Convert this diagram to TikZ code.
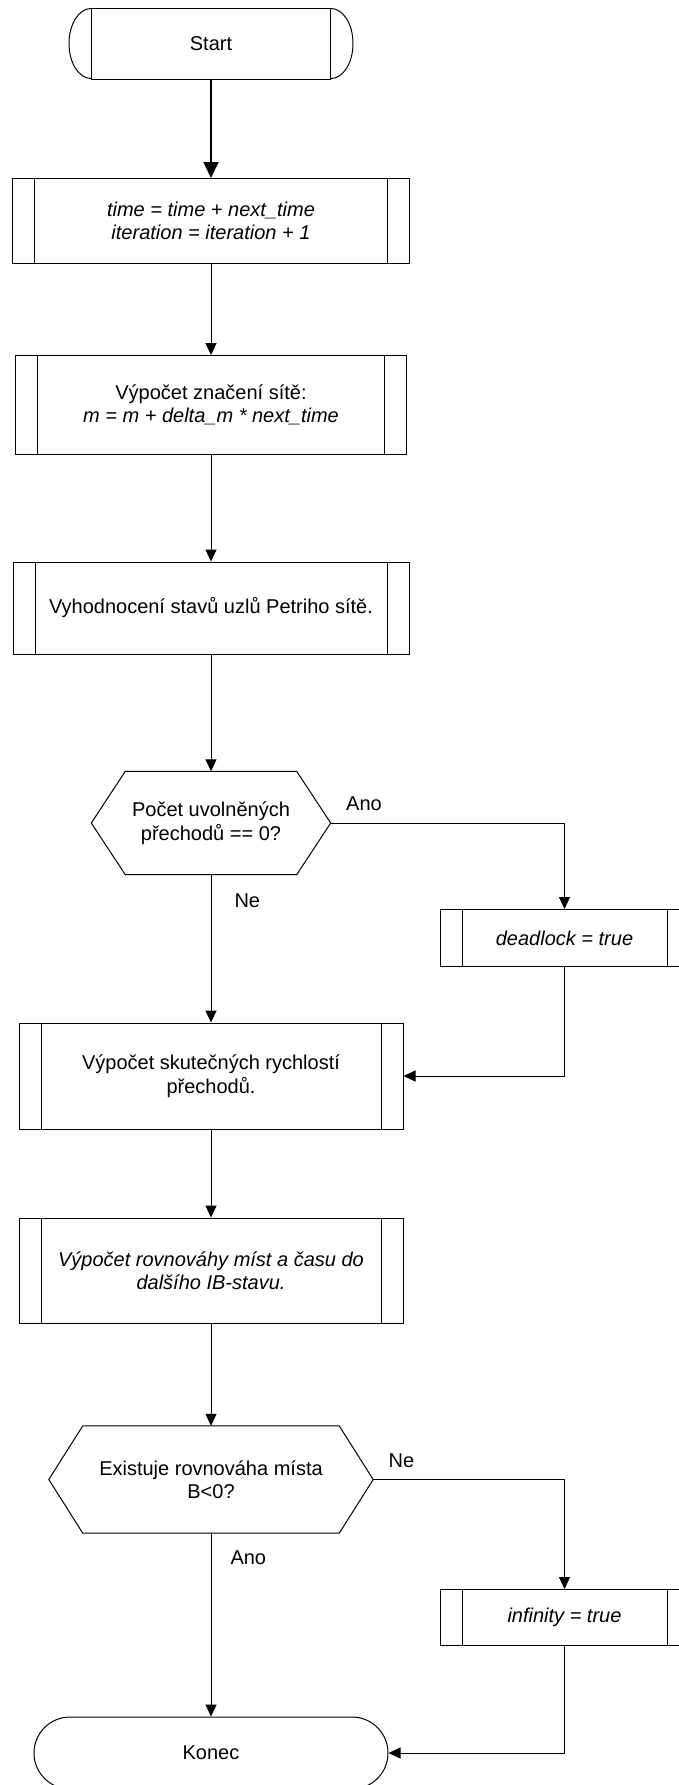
\documentclass[tikz,border=0pt]{standalone}
\usepackage{fontspec}
\setmainfont{Liberation Sans}
\usetikzlibrary{shapes, arrows.meta}

\begin{document}
\begin{tikzpicture}[x=1pt, y=-1pt, font=\fontsize{20}{23.5}\selectfont]

\tikzstyle{block} = [rectangle, draw, line width=1pt, align=center, inner sep=0pt, path picture={
	\draw[line width=1pt] ([xshift=22pt]path picture bounding box.north west) -- ([xshift=22pt]path picture bounding box.south west);
	\draw[line width=1pt] ([xshift=-22pt]path picture bounding box.north east) -- ([xshift=-22pt]path picture bounding box.south east);}]
\tikzstyle{decision} = [rectangle, align=center, inner sep=0pt]
\tikzstyle{terminal} = [rectangle, draw, line width=1pt, inner sep=0pt]
\tikzstyle{line} = [draw, line width=1pt, -{Triangle[length=12pt, width=11pt]}]
\tikzstyle{answer} = [inner sep=0pt, anchor=base west]

	\useasboundingbox (0,0) rectangle (679,1785);

	\node [terminal, minimum width=239pt, minimum height=70pt] (start) at (211,44) {Start};

	\node [block, below of=start, node distance=177pt, minimum width=397pt, minimum height=85pt] (update) {\textit{time = time + next\_time}\\\textit{iteration = iteration + 1}};
	\node [block, below of=update, node distance=184pt, minimum width=391pt, minimum height=99pt] (marking) {Výpočet značení sítě:\\\textit{m = m + delta\_m * next\_time}};
	\node [block, below of=marking, node distance=203pt, minimum width=396pt, minimum height=92pt] (evaluate) {Vyhodnocení stavů uzlů Petriho sítě.};

	\node [decision, below of=evaluate, node distance=215pt, minimum width=239pt, minimum height=103pt] (check_enabled) {Počet uvolněných\\přechodů == 0?};
	\node [block, right of=check_enabled, node distance=353.5pt, yshift=-115pt, minimum width=249pt, minimum height=57pt] (deadlock) {\textit{deadlock = true}};

	\node [block, below of=check_enabled, node distance=253pt, minimum width=384pt, minimum height=106pt] (speeds) {Výpočet skutečných rychlostí\\přechodů.};
	\node [block, below of=speeds, node distance=194.5pt, minimum width=384pt, minimum height=105pt] (balance) {\textit{Výpočet rovnováhy míst a času do}\\\textit{dalšího IB-stavu.}};

	\node [decision, below of=balance, node distance=209pt, minimum width=324pt, minimum height=107pt] (check_balance) {Existuje rovnováha místa\\B<0?};
	\node [block, right of=check_balance, node distance=353.5pt, yshift=-138pt, minimum width=249pt, minimum height=56pt] (infinity) {\textit{infinity = true}};

	\node [terminal, rounded corners=36pt, below of=check_balance, node distance=273.5pt, minimum width=354pt, minimum height=72pt] (konec) {Konec};

	\draw [line width=1pt] (start.north west) arc [start angle=90, end angle=270, x radius=22pt, y radius=35pt];
	\draw [line width=1pt] (start.north east) arc [start angle=90, end angle=-90, x radius=22pt, y radius=35pt];

	\foreach \d in {check_enabled, check_balance}
		\draw [line width=1pt] (\d.west) -- ([xshift=34pt]\d.north west) -- ([xshift=-34pt]\d.north east) -- (\d.east) -- ([xshift=-34pt]\d.south east) -- ([xshift=34pt]\d.south west) -- cycle;

	\path [line, line width=1.8pt, -{Triangle[length=16pt, width=15pt]}] (start) -- (update);
	\path [line] (update) -- (marking);
	\path [line] (marking) -- (evaluate);
	\path [line] (evaluate) -- (check_enabled);
	\path [line] (check_enabled) -| node [answer, pos=0, xshift=15pt, yshift=13pt] {Ano} (deadlock);
	\path [line] (check_enabled) -- node [answer, pos=0, xshift=23pt, yshift=-33pt] {Ne} (speeds);
	\path [line] (deadlock) |- (speeds);
	\path [line] (speeds) -- (balance);
	\path [line] (balance) -- (check_balance);
	\path [line] (check_balance) -| node [answer, pos=0, xshift=15pt, yshift=12pt] {Ne} (infinity);
	\path [line] (check_balance) -- node [answer, pos=0, xshift=19pt, yshift=-31pt] {Ano} (konec);
	\path [line] (infinity) |- (konec);

\end{tikzpicture}
\end{document}
